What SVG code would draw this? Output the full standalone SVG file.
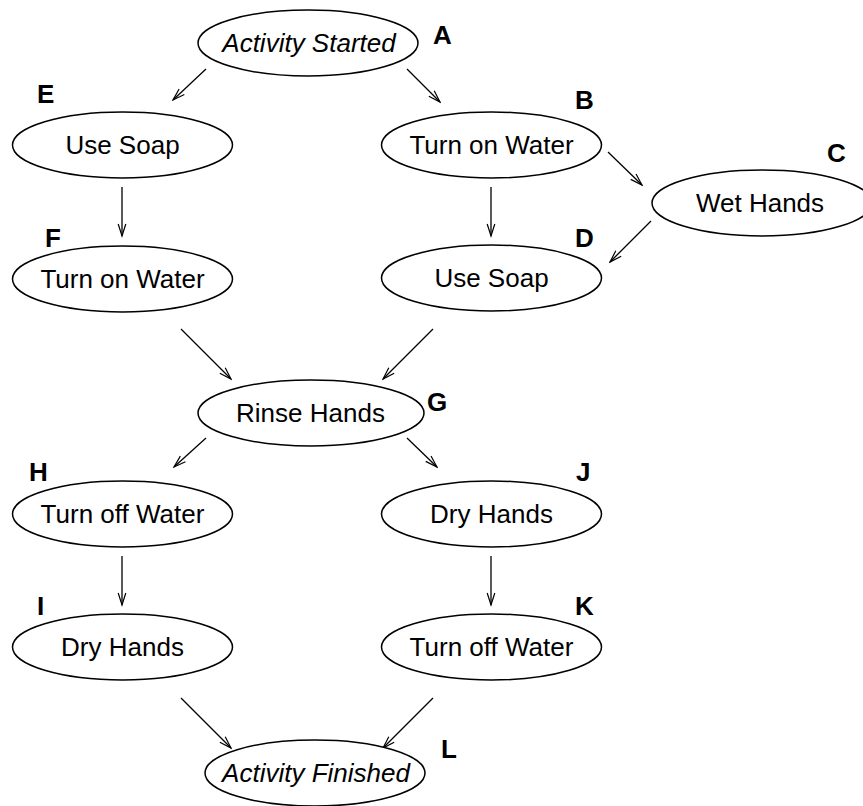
<svg xmlns="http://www.w3.org/2000/svg" width="863" height="806" viewBox="0 0 863 806">
<style>
  .n ellipse { fill: #fff; stroke: #000; stroke-width: 1.5; }
  .n text { font-family: "Liberation Sans", Arial, sans-serif; font-size: 26px; text-anchor: middle; fill: #000; }
  .n text.it { font-style: italic; }
  .n text.lb { font-weight: bold; text-anchor: start; }
  #edges line { stroke: #000; stroke-width: 1.3; marker-end: url(#arr); }
</style>
<defs>
  <marker id="arr" markerUnits="userSpaceOnUse" viewBox="-14 -6 16 12" refX="0" refY="0" markerWidth="16" markerHeight="12" orient="auto">
    <path d="M-12,-3.8 L0,0 L-12,3.8" fill="none" stroke="#000" stroke-width="1.2"/>
  </marker>
</defs>
<rect width="863" height="806" fill="#fff"/>
<g id="edges">
  <line x1="206" y1="69" x2="173" y2="100"/>
  <line x1="407" y1="69" x2="440" y2="102"/>
  <line x1="122" y1="187" x2="122" y2="236"/>
  <line x1="491" y1="187" x2="491" y2="236"/>
  <line x1="608" y1="152" x2="642" y2="185"/>
  <line x1="651" y1="221" x2="610" y2="262"/>
  <line x1="181" y1="329" x2="231" y2="379"/>
  <line x1="433" y1="329" x2="383" y2="379"/>
  <line x1="206" y1="438" x2="174" y2="467"/>
  <line x1="407" y1="438" x2="437" y2="467"/>
  <line x1="122" y1="556" x2="122" y2="605"/>
  <line x1="491" y1="556" x2="491" y2="605"/>
  <line x1="181" y1="698" x2="231" y2="748"/>
  <line x1="433" y1="698" x2="383" y2="748"/>
</g>
<g id="nodeA" class="n">
  <ellipse cx="308" cy="43" rx="110" ry="33"/>
  <text class="it" x="309" y="52">Activity Started</text>
  <text class="lb" x="433" y="44">A</text>
</g>
<g id="nodeB" class="n">
  <ellipse cx="491.5" cy="145" rx="110" ry="33"/>
  <text x="491.5" y="154">Turn on Water</text>
  <text class="lb" x="575" y="109">B</text>
</g>
<g id="nodeC" class="n">
  <ellipse cx="762" cy="203" rx="110" ry="33"/>
  <text x="760" y="212">Wet Hands</text>
  <text class="lb" x="827" y="162">C</text>
</g>
<g id="nodeD" class="n">
  <ellipse cx="491.5" cy="278" rx="110" ry="33"/>
  <text x="491.5" y="287">Use Soap</text>
  <text class="lb" x="575" y="247">D</text>
</g>
<g id="nodeE" class="n">
  <ellipse cx="122.5" cy="145" rx="110" ry="33"/>
  <text x="122.5" y="154">Use Soap</text>
  <text class="lb" x="37" y="103">E</text>
</g>
<g id="nodeF" class="n">
  <ellipse cx="122.5" cy="279" rx="110" ry="33"/>
  <text x="122.5" y="288">Turn on Water</text>
  <text class="lb" x="45" y="247">F</text>
</g>
<g id="nodeG" class="n">
  <ellipse cx="311" cy="413" rx="113" ry="33"/>
  <text x="310.5" y="422">Rinse Hands</text>
  <text class="lb" x="427" y="411">G</text>
</g>
<g id="nodeH" class="n">
  <ellipse cx="122.5" cy="514" rx="110" ry="33"/>
  <text x="122.5" y="523">Turn off Water</text>
  <text class="lb" x="29" y="481">H</text>
</g>
<g id="nodeI" class="n">
  <ellipse cx="122.5" cy="647" rx="110" ry="33"/>
  <text x="122.5" y="656">Dry Hands</text>
  <text class="lb" x="37" y="615">I</text>
</g>
<g id="nodeJ" class="n">
  <ellipse cx="491.5" cy="514" rx="110" ry="33"/>
  <text x="491.5" y="523">Dry Hands</text>
  <text class="lb" x="576" y="481">J</text>
</g>
<g id="nodeK" class="n">
  <ellipse cx="491.5" cy="647" rx="110" ry="33"/>
  <text x="491.5" y="656">Turn off Water</text>
  <text class="lb" x="575" y="615">K</text>
</g>
<g id="nodeL" class="n">
  <ellipse cx="315" cy="773" rx="110" ry="33"/>
  <text class="it" x="316" y="782">Activity Finished</text>
  <text class="lb" x="441" y="758">L</text>
</g>
</svg>
